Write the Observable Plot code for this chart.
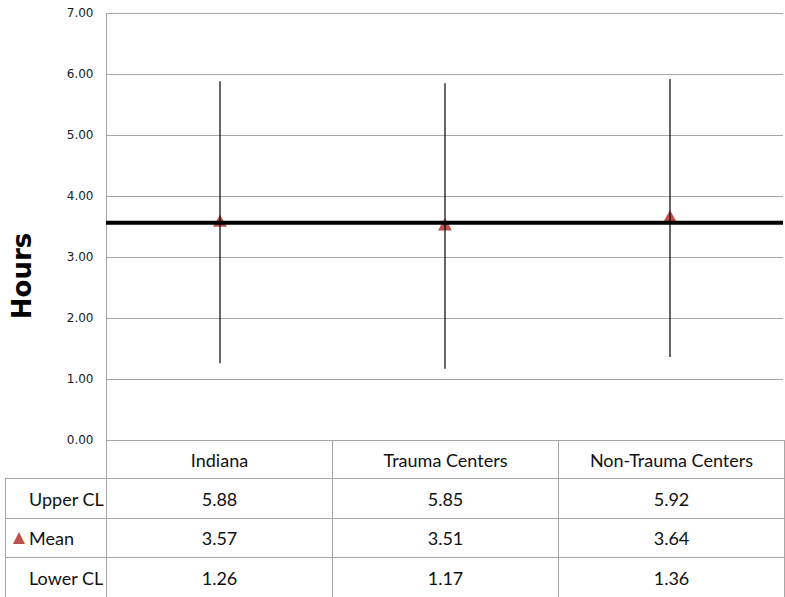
<!DOCTYPE html>
<html><head><meta charset="utf-8">
<script src="https://cdn.jsdelivr.net/npm/d3@7"></script>
<script src="https://cdn.jsdelivr.net/npm/@observablehq/plot@0.6"></script>
<style>
body{margin:0;background:#fff;}
#wrap{position:relative;width:785px;height:597px;overflow:hidden;background:#fff;}
#wrap svg{position:absolute;left:0;top:0;background:transparent;}
table{position:absolute;left:5px;top:440px;border-collapse:collapse;table-layout:fixed;font-family:Lato,sans-serif;font-size:18px;color:#111;background:transparent;}
td{border:1px solid #a6a6a6;text-align:center;padding:0;white-space:nowrap;}
td.lab{text-align:left;padding-left:23px;position:relative;}
td.empty{border-top:none;border-left:none;}
.tri{position:absolute;left:7px;top:50%;margin-top:-6px;width:0;height:0;border-left:6px solid transparent;border-right:6px solid transparent;border-bottom:12px solid #c0504d;}
#ylab{position:absolute;left:22px;top:276px;transform:translate(-50%,-50%) rotate(-90deg);font-family:'DejaVu Sans',sans-serif;font-weight:bold;font-size:26px;color:#000;white-space:nowrap;}
</style></head><body><div id="wrap"></div>
<script>
const categories = ["Indiana", "Trauma Centers", "Non-Trauma Centers"];
const upperCL = [5.88, 5.85, 5.92];
const meanVals = [3.57, 3.51, 3.64];
const lowerCL = [1.26, 1.17, 1.36];
const rowLabels = ["Upper CL", "Mean", "Lower CL"];
const yTicks = [0, 1, 2, 3, 4, 5, 6, 7];
const yTitle = "Hours";
const referenceMean = meanVals[0];

const data = categories.map((c, i) => ({cat: c, upper: upperCL[i], mean: meanVals[i], lower: lowerCL[i]}));

const chart = Plot.plot({
  width: 785, height: 452,
  marginTop: 13, marginBottom: 12, marginLeft: 106, marginRight: 2,
  x: {domain: categories, type: "band", padding: 0, axis: null},
  y: {domain: [0, 7], label: null, axis: null},
  style: {background: "transparent"},
  marks: [
    Plot.gridY(yTicks, {stroke: "#a6a6a6", strokeOpacity: 1}),
    Plot.text(yTicks, {y: d => d, text: d => d.toFixed(2), frameAnchor: "left", dx: -13, textAnchor: "end",
      fontSize: 12, fontFamily: "'DejaVu Sans', sans-serif", fill: "#1a1a1a"}),
    Plot.frame({anchor: "left", stroke: "#a6a6a6"}),
    Plot.dot(data, {x: "cat", y: "mean", symbol: "triangle", r: 5.2, fill: "#c0504d", stroke: null}),
    Plot.ruleX(data, {x: "cat", y1: "lower", y2: "upper", stroke: "#000", strokeWidth: 1.2}),
    Plot.ruleY([referenceMean], {stroke: "#000", strokeWidth: 4})
  ]
});
const wrap = document.getElementById("wrap");
wrap.appendChild(chart);
wrap.insertAdjacentHTML("beforeend", `<div id="ylab">${yTitle}</div>`);

// data table below the chart
const rows = [upperCL, meanVals, lowerCL];
let html = '<table><colgroup><col style="width:101px"><col style="width:226px"><col style="width:226px"><col style="width:226px"></colgroup>';
html += '<tr style="height:38px"><td class="empty"></td>' + categories.map(c => `<td>${c}</td>`).join("") + '</tr>';
const heights = [40, 39, 40];
rows.forEach((vals, i) => {
  const lab = rowLabels[i] === "Mean" ? `<span class="tri"></span>${rowLabels[i]}` : rowLabels[i];
  html += `<tr style="height:${heights[i]}px"><td class="lab">${lab}</td>` + vals.map(v => `<td>${v.toFixed(2)}</td>`).join("") + '</tr>';
});
html += '</table>';
wrap.insertAdjacentHTML("beforeend", html);
</script></body></html>
